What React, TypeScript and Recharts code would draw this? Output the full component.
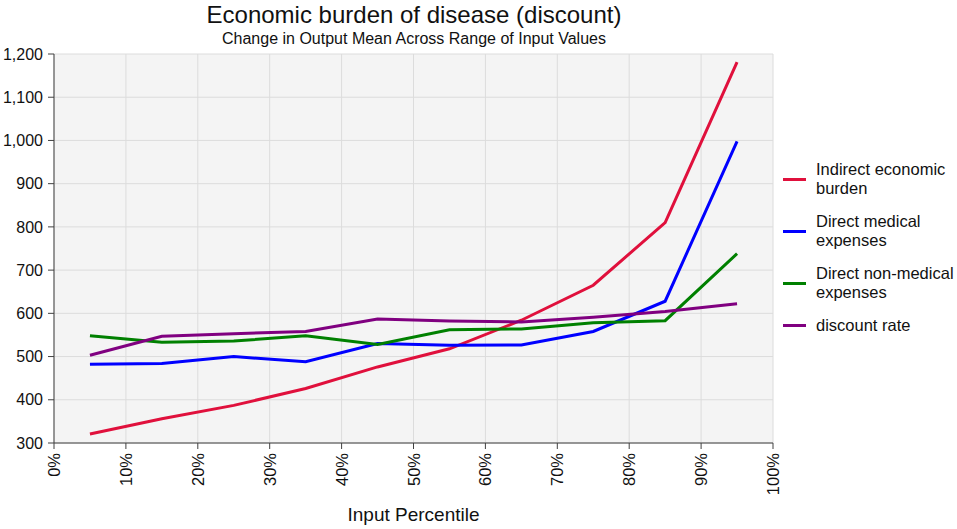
import { CartesianGrid, Line, LineChart, XAxis, YAxis } from 'recharts'

const percentiles = [5, 15, 25, 35, 45, 55, 65, 75, 85, 95]
const indirectBurden = [321, 356, 387, 426, 476, 518, 584, 665, 810, 1181]
const directMedical = [482, 484, 500, 488, 530, 526, 527, 558, 628, 998]
const directNonMedical = [548, 533, 536, 548, 528, 562, 564, 578, 583, 738]
const discountRate = [503, 547, 553, 558, 587, 582, 580, 591, 604, 622]

const xTicks = [0, 10, 20, 30, 40, 50, 60, 70, 80, 90, 100]
const yTicks = [300, 400, 500, 600, 700, 800, 900, 1000, 1100, 1200]

const series = [
  { key: 'indirect', name: 'Indirect economic burden', color: '#e0103c', values: indirectBurden },
  { key: 'medical', name: 'Direct medical expenses', color: '#0000ff', values: directMedical },
  { key: 'nonMedical', name: 'Direct non-medical expenses', color: '#008000', values: directNonMedical },
  { key: 'discount', name: 'discount rate', color: '#800080', values: discountRate },
]

const rows = percentiles.map((p, i) => {
  const row: Record<string, number> = { pct: p }
  series.forEach((s) => {
    row[s.key] = s.values[i]
  })
  return row
})

const font = '"Liberation Sans", Arial, sans-serif'
const thousands = new Intl.NumberFormat('en-US')

function XTick({ x, y, payload }: any) {
  return (
    <text
      x={x}
      y={y}
      transform={`rotate(-90, ${x}, ${y})`}
      textAnchor="end"
      dominantBaseline="central"
      fontSize={16.5}
      fontFamily={font}
      fill="#111"
    >
      {payload.value}%
    </text>
  )
}

export default function App() {
  return (
    <div style={{ position: 'absolute', left: 0, top: 0, width: 957, height: 529, background: '#fff', fontFamily: font }}>
      <div style={{ position: 'absolute', left: 0, width: 828, top: 1, textAlign: 'center', fontSize: 24, color: '#111' }}>
        Economic burden of disease (discount)
      </div>
      <div style={{ position: 'absolute', left: 0, width: 828, top: 30, textAlign: 'center', fontSize: 16, color: '#111' }}>
        Change in Output Mean Across Range of Input Values
      </div>
      <LineChart width={957} height={529} data={rows} margin={{ top: 54, right: 184, bottom: 0, left: 0 }}>
        <CartesianGrid fill="#f4f4f4" stroke="#dcdcdc" />
        <XAxis
          dataKey="pct"
          type="number"
          domain={[0, 100]}
          ticks={xTicks}
          interval={0}
          height={86}
          tickSize={6}
          tickMargin={4}
          stroke="#404040"
          tick={<XTick />}
          label={{ value: 'Input Percentile', position: 'insideBottom', offset: 8, fontSize: 19, fill: '#111', fontFamily: font }}
        />
        <YAxis
          type="number"
          domain={[300, 1200]}
          ticks={yTicks}
          interval={0}
          width={54}
          tickSize={6}
          tickMargin={5}
          stroke="#404040"
          tick={{ fontSize: 16, fill: '#111', fontFamily: font }}
          tickFormatter={(v: number) => thousands.format(v)}
        />
        {series.map((s) => (
          <Line
            key={s.key}
            type="linear"
            dataKey={s.key}
            name={s.name}
            stroke={s.color}
            strokeWidth={3}
            dot={false}
            isAnimationActive={false}
          />
        ))}
      </LineChart>
      <div style={{ position: 'absolute', left: 783, top: 160, width: 174 }}>
        {series.map((s) => (
          <div key={s.key} style={{ display: 'flex', alignItems: 'center', marginBottom: 14 }}>
            <span style={{ width: 23, height: 3, background: s.color, flex: 'none', marginRight: 10 }} />
            <span style={{ fontSize: 16.5, lineHeight: '19px', color: '#111', width: 142 }}>{s.name}</span>
          </div>
        ))}
      </div>
    </div>
  )
}
